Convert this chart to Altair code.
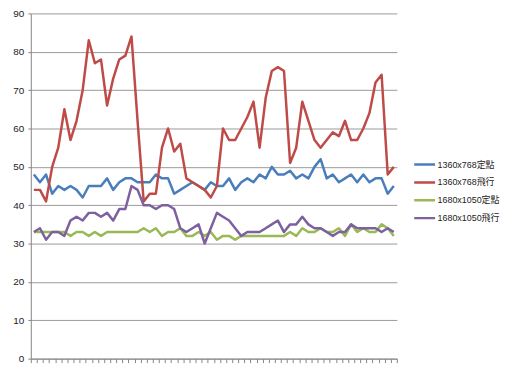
import altair as alt
import pandas as pd

series_names = ["1360x768定點", "1360x768飛行", "1680x1050定點", "1680x1050飛行"]
colors = ["#4A7EBB", "#BE4B48", "#98B954", "#7D60A0"]

s_1360_fixed = [48, 46, 48, 43, 45, 44, 45, 44, 42, 45, 45, 45, 47, 44, 46, 47, 47, 46, 46, 46,
                48, 47, 47, 43, 44, 45, 46, 45, 44, 46, 45, 45, 47, 44, 46, 47, 46, 48, 47, 50,
                48, 48, 49, 47, 48, 47, 50, 52, 47, 48, 46, 47, 48, 46, 48, 46, 47, 47, 43, 45]
s_1360_fly = [44, 44, 41, 50, 55, 65, 57, 62, 70, 83, 77, 78, 66, 73, 78, 79, 84, 62, 41, 43,
              43, 55, 60, 54, 56, 47, 46, 45, 44, 42, 45, 60, 57, 57, 60, 63, 67, 55, 68, 75,
              76, 75, 51, 55, 67, 62, 57, 55, 57, 59, 58, 62, 57, 57, 60, 64, 72, 74, 48, 50]
s_1680_fixed = [33, 33, 33, 33, 33, 33, 32, 33, 33, 32, 33, 32, 33, 33, 33, 33, 33, 33, 34, 33,
                34, 32, 33, 33, 34, 32, 32, 33, 32, 33, 31, 32, 32, 31, 32, 32, 32, 32, 32, 32,
                32, 32, 33, 32, 34, 33, 33, 34, 33, 33, 34, 32, 35, 33, 34, 33, 33, 35, 34, 32]
s_1680_fly = [33, 34, 31, 33, 33, 32, 36, 37, 36, 38, 38, 37, 38, 36, 39, 39, 45, 44, 40, 40,
              39, 40, 40, 39, 34, 33, 34, 35, 30, 34, 38, 37, 36, 34, 32, 33, 33, 33, 34, 35,
              36, 33, 35, 35, 37, 35, 34, 34, 33, 32, 33, 33, 35, 34, 34, 34, 34, 33, 34, 33]

all_series = [s_1360_fixed, s_1360_fly, s_1680_fixed, s_1680_fly]
rows = []
for name, vals in zip(series_names, all_series):
    for i, v in enumerate(vals):
        rows.append({"i": i, "series": name, "value": v})
df = pd.DataFrame(rows)
n = len(s_1360_fixed)

font = "Liberation Sans, Arial, Noto Sans CJK TC"

chart = alt.Chart(df).transform_calculate(
    xc="datum.i + 0.5"
).mark_line(strokeWidth=2.5, strokeJoin="round").encode(
    x=alt.X("xc:Q",
            scale=alt.Scale(domain=[0, n], nice=False, zero=False),
            axis=alt.Axis(values=list(range(n + 1)), labels=False, title=None, grid=False,
                          tickSize=4, tickColor="#868686", domainColor="#868686")),
    y=alt.Y("value:Q",
            scale=alt.Scale(domain=[0, 90], nice=False),
            axis=alt.Axis(values=list(range(0, 91, 10)), title=None, grid=True,
                          gridColor="#9a9a9a", tickSize=3, tickColor="#868686",
                          domainColor="#868686", labelFontSize=10, labelPadding=4,
                          labelColor="#222222", labelFont=font)),
    color=alt.Color("series:N",
                    scale=alt.Scale(domain=series_names, range=colors),
                    sort=series_names,
                    legend=alt.Legend(title=None, orient="none", legendX=385, legendY=143.5,
                                      symbolType="stroke", symbolSize=441, symbolStrokeWidth=2.5,
                                      labelFontSize=9, labelFont=font, labelColor="#222222",
                                      labelOffset=1, rowPadding=0, clipHeight=17.7, padding=0,
                                      labelLimit=200)),
).properties(
    width=369, height=348,
    padding={"left": 23, "top": 4, "right": 108, "bottom": 12},
    autosize="none",
).configure_view(stroke=None)

chart.save("out.html", embed_options={"renderer": "svg", "actions": False})
